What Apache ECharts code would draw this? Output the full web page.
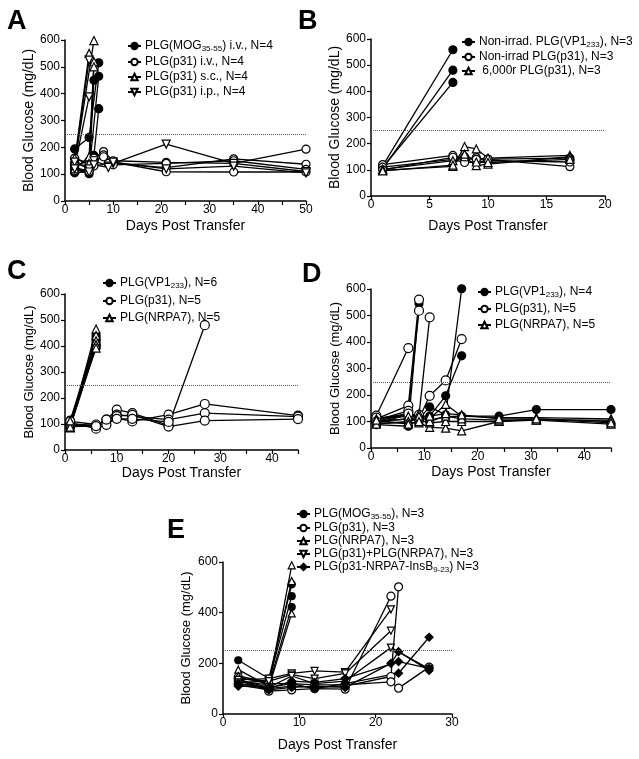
<!DOCTYPE html>
<html>
<head>
<meta charset="utf-8">
<script src="https://cdn.jsdelivr.net/npm/echarts@6/dist/echarts.min.js"></script>
<style>
  html, body { margin: 0; padding: 0; background: #fff; }
  #main { width: 639px; height: 759px; }
</style>
</head>
<body>
<div id="main"></div>
<script>
// blood glucose threshold (dotted line)
var threshold = 250;

// ---- panel A : day, mg/dL per mouse ----
var aMOG = [
    [[2, 194], [5, 237], [7, 515]],
    [[2, 118], [5, 102], [6, 450]],
    [[2, 105], [5, 110], [7, 465]],
    [[2, 140], [5, 128], [6, 170], [7, 344]]
];
var aP31iv = [
    [[2, 130], [5, 150], [6, 160], [8, 184], [10, 150], [21, 144], [35, 140], [50, 193]],
    [[2, 112], [5, 120], [6, 140], [8, 172], [10, 140], [21, 124], [35, 157], [50, 137]],
    [[2, 160], [5, 135], [6, 150], [8, 165], [10, 145], [21, 109], [35, 108], [50, 108]],
    [[2, 125], [5, 110], [6, 130], [9, 140], [10, 135], [21, 140], [35, 150], [50, 118]]
];
var aP31sc = [
    [[2, 150], [5, 550]],
    [[2, 135], [6, 598]],
    [[2, 120], [5, 165], [6, 519]],
    [[2, 160], [5, 140], [6, 500]]
];
var aP31ip = [
    [[2, 140], [5, 525]],
    [[2, 128], [5, 388]],
    [[2, 145], [5, 120], [6, 150], [9, 130], [10, 140], [21, 212], [35, 140], [50, 110]],
    [[2, 120], [5, 108], [6, 135], [9, 125], [10, 145], [21, 120], [35, 130], [50, 105]]
];

// ---- panel B ----
var bVP1 = [
    [[1, 115], [7, 559]],
    [[1, 105], [7, 481]],
    [[1, 110], [7, 434]]
];
var bP31 = [
    [[1, 120], [7, 155], [8, 135], [9, 147], [10, 140], [17, 112]],
    [[1, 110], [7, 140], [8, 128], [9, 130], [10, 135], [17, 130]],
    [[1, 100], [7, 148], [8, 150], [9, 140], [10, 141], [17, 145]]
];
var bIrr = [
    [[1, 98], [7, 113], [8, 189], [9, 180], [10, 145], [17, 155]],
    [[1, 102], [7, 135], [8, 150], [9, 116], [10, 122], [17, 150]],
    [[1, 96], [7, 118], [8, 160], [9, 130], [10, 128], [17, 140]]
];

// ---- panel C ----
var cVP1 = [
    [[1, 110], [6, 440]], [[1, 100], [6, 430]], [[1, 95], [6, 420]],
    [[1, 105], [6, 410]], [[1, 115], [6, 400]], [[1, 90], [6, 395]]
];
var cP31 = [
    [[1, 100], [6, 95], [8, 117], [10, 155], [13, 142], [20, 95], [27, 480]],
    [[1, 105], [6, 82], [8, 97], [10, 123], [13, 110], [20, 136], [27, 177], [45, 132]],
    [[1, 95], [6, 95], [8, 117], [10, 136], [13, 129], [20, 117], [27, 142], [45, 128]],
    [[1, 110], [6, 98], [10, 130], [13, 135], [20, 90], [27, 113], [45, 119]],
    [[1, 90], [6, 92], [10, 120], [13, 120], [20, 108]]
];
var cNRPA7 = [
    [[1, 85], [6, 465]], [[1, 90], [6, 440]], [[1, 100], [6, 420]],
    [[1, 88], [6, 405]], [[1, 112], [6, 392]]
];

// ---- panel D ----
var dVP1 = [
    [[1, 88], [7, 82], [9, 545]],
    [[1, 95], [7, 125], [9, 110], [11, 155], [14, 125], [17, 601]],
    [[1, 100], [7, 110], [9, 100], [11, 120], [14, 197], [17, 348]],
    [[1, 110], [7, 130], [9, 120], [11, 105], [14, 118], [17, 120], [24, 120], [31, 145], [45, 145]]
];
var dP31 = [
    [[1, 122], [7, 377]],
    [[1, 110], [7, 160], [9, 560]],
    [[1, 105], [7, 140], [9, 518]],
    [[1, 115], [7, 120], [9, 125], [11, 493]],
    [[1, 100], [7, 130], [9, 110], [11, 197], [14, 255], [17, 411]]
];
var dNRPA7 = [
    [[1, 95], [7, 95], [9, 95], [11, 78], [14, 75], [17, 65], [24, 100], [31, 105], [45, 90]],
    [[1, 100], [7, 110], [9, 105], [11, 95], [14, 100], [17, 100], [24, 100], [31, 110], [45, 100]],
    [[1, 110], [7, 120], [9, 130], [11, 110], [14, 165], [17, 120], [24, 115], [31, 115], [45, 110]],
    [[1, 90], [7, 100], [9, 120], [11, 100], [14, 120], [17, 110], [24, 105], [31, 105], [45, 105]],
    [[1, 105], [7, 90], [9, 100], [11, 120], [14, 130], [17, 125], [24, 110], [31, 110], [45, 95]]
];

// ---- panel E ----
var eMOG = [
    [[2, 212], [6, 140], [9, 512]],
    [[2, 140], [6, 130], [9, 465]],
    [[2, 130], [6, 115], [9, 422]]
];
var eP31 = [
    [[2, 140], [6, 90], [9, 95], [12, 100], [16, 98], [22, 465]],
    [[2, 130], [6, 100], [9, 110], [12, 105], [16, 110], [22, 148], [23, 502]],
    [[2, 145], [6, 120], [9, 120], [12, 115], [16, 115], [22, 127], [23, 102], [27, 185]]
];
var eNRPA7 = [
    [[2, 175], [6, 110], [9, 587]],
    [[2, 150], [6, 125], [9, 525]],
    [[2, 135], [6, 105], [9, 397]]
];
var eCombo = [
    [[2, 135], [6, 140], [9, 160], [12, 170], [16, 165], [22, 413]],
    [[2, 125], [6, 130], [9, 155], [12, 140], [16, 160], [22, 329]],
    [[2, 120], [6, 105], [9, 150], [12, 120], [16, 130], [22, 262], [27, 178]]
];
var eInsB = [
    [[2, 115], [6, 95], [9, 105], [12, 110], [16, 105], [22, 200], [23, 246], [27, 172]],
    [[2, 120], [6, 100], [9, 130], [12, 125], [16, 140], [23, 207], [27, 180]],
    [[2, 110], [6, 105], [9, 120], [12, 100], [16, 120], [23, 161], [27, 303]]
];

// legend names, text between '_' is subscript
var nA = ['PLG(MOG_35-55_) i.v., N=4', 'PLG(p31) i.v., N=4', 'PLG(p31) s.c., N=4', 'PLG(p31) i.p., N=4'];
var nB = ['Non-irrad. PLG(VP1_233_), N=3', 'Non-irrad PLG(p31), N=3', ' 6,000r PLG(p31), N=3'];
var nC = ['PLG(VP1_233_), N=6', 'PLG(p31), N=5', 'PLG(NRPA7), N=5'];
var nD = ['PLG(VP1_233_), N=4', 'PLG(p31), N=5 ', 'PLG(NRPA7), N=5 '];
var nE = ['PLG(MOG_35-55_), N=3', 'PLG(p31), N=3', 'PLG(NRPA7), N=3', 'PLG(p31)+PLG(NRPA7), N=3', 'PLG(p31-NRPA7-InsB_9-23_) N=3'];

var FONT = '"Liberation Sans", Arial, sans-serif';
var series = [];

function addGroup(mice, name, gi, sym, filled, size, rot) {
    mice.forEach(function (m) {
        series.push({
            type: 'line',
            name: name,
            xAxisIndex: gi,
            yAxisIndex: gi,
            data: m,
            symbol: sym,
            symbolSize: size,
            symbolRotate: rot || 0,
            clip: false,
            animation: false,
            lineStyle: {color: '#000', width: 1.3},
            itemStyle: {color: filled ? '#000' : '#fff', borderColor: '#000', borderWidth: 1.2}
        });
    });
}

function addThreshold(gi) {
    series.push({
        type: 'line', name: 'thr' + gi, xAxisIndex: gi, yAxisIndex: gi,
        data: [], animation: false, silent: true,
        markLine: {
            silent: true, symbol: 'none', label: {show: false}, animation: false,
            lineStyle: {color: '#555', type: 'dotted', width: 1},
            data: [{yAxis: threshold}]
        }
    });
}

addThreshold(0);
addGroup(aMOG, nA[0], 0, 'circle', true, 8);
addGroup(aP31iv, nA[1], 0, 'circle', false, 8);
addGroup(aP31sc, nA[2], 0, 'triangle', false, 8);
addGroup(aP31ip, nA[3], 0, 'triangle', false, 8, 180);

addThreshold(1);
addGroup(bVP1, nB[0], 1, 'circle', true, 8);
addGroup(bP31, nB[1], 1, 'circle', false, 8);
addGroup(bIrr, nB[2], 1, 'triangle', false, 8);

addThreshold(2);
addGroup(cVP1, nC[0], 2, 'circle', true, 8);
addGroup(cP31, nC[1], 2, 'circle', false, 9);
addGroup(cNRPA7, nC[2], 2, 'triangle', false, 8);

addThreshold(3);
addGroup(dVP1, nD[0], 3, 'circle', true, 8);
addGroup(dP31, nD[1], 3, 'circle', false, 9);
addGroup(dNRPA7, nD[2], 3, 'triangle', false, 8);

addThreshold(4);
addGroup(eMOG, nE[0], 4, 'circle', true, 7);
addGroup(eP31, nE[1], 4, 'circle', false, 8);
addGroup(eNRPA7, nE[2], 4, 'triangle', false, 7);
addGroup(eCombo, nE[3], 4, 'triangle', false, 7, 180);
addGroup(eInsB, nE[4], 4, 'diamond', true, 8);

function richName(name) {
    var parts = name.split('_');
    var out = '';
    for (var i = 0; i < parts.length; i++) {
        if (!parts[i]) continue;
        out += (i % 2 ? '{s|' : '{t|') + parts[i] + '}';
    }
    return out;
}

function legend(names, left, top, gap) {
    return {
        data: names, orient: 'vertical', left: left, top: top,
        padding: 0, itemGap: gap, itemWidth: 13, itemHeight: 8,
        selectedMode: false,
        formatter: richName,
        textStyle: {
            padding: [0, 0, 0, -1],
            rich: {
                t: {fontSize: 12, lineHeight: 14, color: '#000', fontFamily: FONT},
                s: {fontSize: 8, lineHeight: 6, verticalAlign: 'bottom', color: '#000', fontFamily: FONT}
            }
        }
    };
}

function xAx(gi, max, step, every, gap) {
    return {
        type: 'value', gridIndex: gi, min: 0, max: max, interval: step,
        name: 'Days Post Transfer', nameLocation: 'middle', nameGap: gap,
        nameTextStyle: {fontSize: 14, color: '#000', fontFamily: FONT},
        axisLine: {lineStyle: {color: '#000', width: 1.5}},
        axisTick: {length: 4, lineStyle: {color: '#000', width: 1.2}},
        axisLabel: {
            margin: 3, fontSize: 12, color: '#000', fontFamily: FONT,
            formatter: function (v) { return v % every === 0 ? String(v) : ''; }
        },
        splitLine: {show: false}
    };
}

function yAx(gi, step, gap, fs) {
    return {
        type: 'value', gridIndex: gi, min: 0, max: 600, interval: step,
        name: 'Blood Glucose (mg/dL)', nameLocation: 'middle', nameGap: gap,
        nameTextStyle: {fontSize: fs, color: '#000', fontFamily: FONT},
        axisLine: {show: true, lineStyle: {color: '#000', width: 1.5}},
        axisTick: {show: true, length: 4, lineStyle: {color: '#000', width: 1.2}},
        axisLabel: {margin: 5, fontSize: 12, color: '#000', fontFamily: FONT},
        splitLine: {show: false}
    };
}

function letter(t, left, top) {
    return {text: t, left: left, top: top, padding: 0,
        textStyle: {fontSize: 27, fontWeight: 'bold', color: '#000', fontFamily: FONT}};
}

var myChart = echarts.init(document.getElementById('main'));
var option = {
    backgroundColor: '#fff',
    animation: false,
    title: [letter('A', 7, 8), letter('B', 298, 8), letter('C', 7, 258), letter('D', 302, 261), letter('E', 167, 517)],
    legend: [
        legend(nA, 127, 40, 3),
        legend(nB, 461, 36, 2),
        legend(nC, 102, 277, 5),
        legend(nD, 477, 286, 4),
        legend(nE, 296, 508, 1)
    ],
    grid: [
        {left: 65, top: 40, width: 241, height: 161},
        {left: 371, top: 39, width: 234, height: 157},
        {left: 65, top: 294, width: 233, height: 156},
        {left: 371, top: 289, width: 240, height: 159},
        {left: 223, top: 562, width: 229, height: 152}
    ],
    xAxis: [
        xAx(0, 50, 5, 10, 18),
        xAx(1, 20, 5, 5, 23),
        xAx(2, 45, 5, 10, 15),
        xAx(3, 45, 5, 10, 17),
        xAx(4, 30, 10, 10, 24)
    ],
    yAxis: [
        yAx(0, 100, 24, 14),
        yAx(1, 100, 27, 14),
        yAx(2, 100, 26, 13),
        yAx(3, 100, 27, 13),
        yAx(4, 200, 30, 13)
    ],
    series: series
};
myChart.setOption(option);
</script>
</body>
</html>
